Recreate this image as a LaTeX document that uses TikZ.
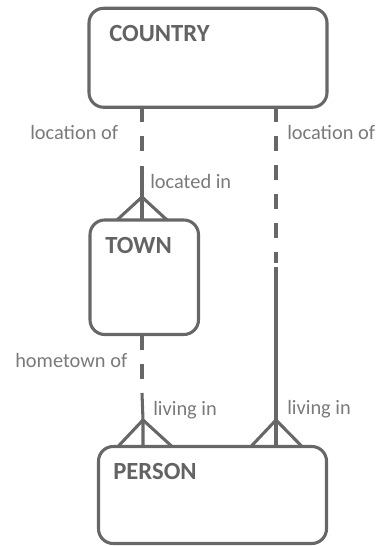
\documentclass[tikz,border=0pt]{standalone}
\usepackage{fontspec}
\setmainfont{Carlito}
\begin{document}
\begin{tikzpicture}[x=0.75pt,y=-0.75pt,
  entity/.style={draw=linegray, line width=2.3pt, rounded corners=11pt,
    rectangle, inner sep=0pt, outer sep=0pt},
  title/.style={anchor=base west, inner sep=0pt, text=titlegray,
    font=\bfseries\fontsize{18.5pt}{20pt}\selectfont},
  role/.style={anchor=base west, inner sep=0pt, text=labelgray,
    font=\fontsize{15.3pt}{17pt}\selectfont},
  link/.style={draw=linegray, line width=2.3pt},
  optional/.style={link, dash pattern=on 11.25pt off 10.5pt},
]
\definecolor{linegray}{HTML}{676767}
\definecolor{titlegray}{HTML}{636363}
\definecolor{labelgray}{HTML}{7A7A7A}
\useasboundingbox (0,0) rectangle (385,546);

% entities
\node[entity, minimum width=238*0.75pt, minimum height=99*0.75pt] (country) at (208,57.75) {};
\node[entity, minimum width=108.5*0.75pt, minimum height=114.5*0.75pt] (town) at (144.25,277.25) {};
\node[entity, minimum width=228*0.75pt, minimum height=97*0.75pt] (person) at (212.5,495) {};

\node[title] (countryname) at (109,41) {COUNTRY};
\node[title] (townname) at (105,253) {TOWN};
\node[title] (personname) at (113,479) {PERSON};

% relationship roles
\node[role] (loc1) at (30,139) {location of};
\node[role] (loc2) at (287,139) {location of};
\node[role] (locin) at (150,188) {located in};
\node[role] (home) at (15,367) {hometown of};
\node[role] (liv1) at (153,415) {living in};
\node[role] (liv2) at (287,414) {living in};

% country -- town
\coordinate (a1) at (142,153);
\coordinate (a2) at (142,166);
\coordinate (a3) at (142,197);
\draw[optional] (country.south -| a1) -- (a1);
\draw[link] (a2) -- (a3) -- (town.north -| a3);
\draw[link] ([xshift=-25*0.75pt]town.north -| a3) -- (a3) -- ([xshift=25*0.75pt]town.north -| a3);

% country -- person
\coordinate (b1) at (276,263);
\coordinate (b2) at (276,267);
\coordinate (b3) at (276,420);
\draw[optional] (country.south -| b1) -- (b1);
\draw[link] (b2) -- (b3) -- (person.north -| b3);
\draw[link] ([xshift=-25*0.75pt]person.north -| b3) -- (b3) -- ([xshift=26*0.75pt]person.north -| b3);

% town -- person
\coordinate (c1) at (142,380);
\coordinate (c2) at (142,393);
\coordinate (c3) at (143,420);
\draw[optional] (town.south -| c1) -- (c1);
\draw[link] (c2) -- (c3) -- (person.north -| c3);
\draw[link] ([xshift=-25*0.75pt]person.north -| c3) -- (c3) -- ([xshift=29*0.75pt]person.north -| c3);
\end{tikzpicture}
\end{document}
